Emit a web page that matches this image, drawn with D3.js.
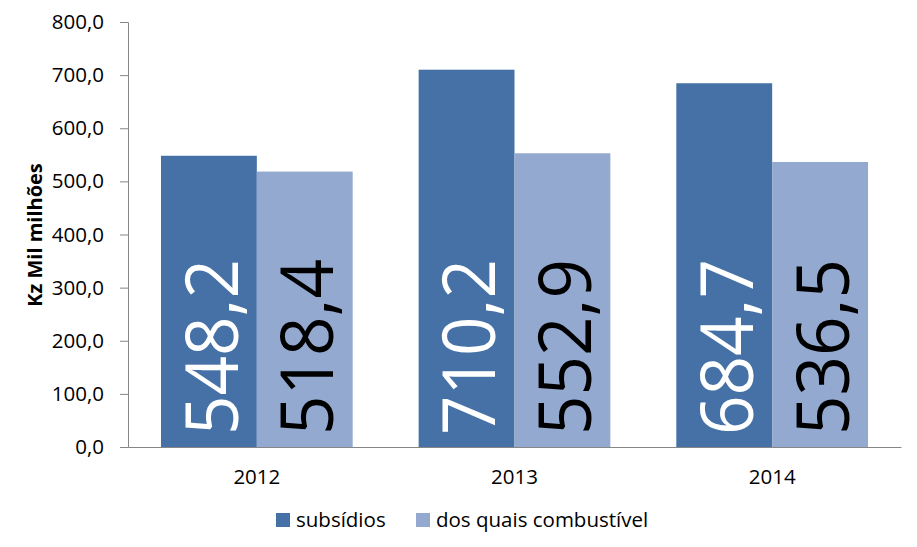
<!DOCTYPE html>
<html><head><meta charset="utf-8">
<script src="https://cdn.jsdelivr.net/npm/d3@7"></script>
<style>body{margin:0;background:#fff}svg{display:block}</style>
</head><body>
<script>
const categories = ["2012", "2013", "2014"];
const seriesNames = ["subsídios", "dos quais combustível"];
const subsidios = [548.2, 710.2, 684.7];
const combustivel = [518.4, 552.9, 536.5];
const yTicks = [0, 100, 200, 300, 400, 500, 600, 700, 800];
const colors = ["#4571A6", "#93A9D0"];
const labelColors = ["#ffffff", "#000000"];

(function () {
const W = 917, H = 547;
const pLeft = 128, pRight = 901, pTop = 22, pBottom = 447;
const font = "'Open Sans', sans-serif";

const svg = d3.select("body").append("svg").attr("width", W).attr("height", H);

const x = d3.scaleBand().domain(categories).range([pLeft, pRight]).paddingInner(0.256).paddingOuter(0.128);
const xs = d3.scaleBand().domain([0, 1]).range([0, x.bandwidth()]);
const y = d3.scaleLinear().domain([0, 800]).range([pBottom, pTop]);

const fmt = v => d3.format(".1f")(v).replace(".", ",");

// y axis
const yAxis = svg.append("g").attr("transform", `translate(${pLeft},0)`)
  .call(d3.axisLeft(y).tickValues(yTicks).tickSize(8).tickPadding(16).tickFormat(fmt));
yAxis.select(".domain").attr("stroke", "#868686");
yAxis.selectAll(".tick line").attr("stroke", "#868686");
yAxis.selectAll(".tick text").attr("font-family", font).attr("font-size", 20.5).attr("fill", "#000");

const data = categories.map((c, i) => ({c, vals: [subsidios[i], combustivel[i]]}));

const g = svg.append("g");
data.forEach(d => {
  d.vals.forEach((v, s) => {
    const bx = x(d.c) + xs(s);
    g.append("rect").attr("x", bx).attr("y", y(v)).attr("width", xs.bandwidth()).attr("height", y(0) - y(v)).attr("fill", colors[s]);
    const cx = bx + xs.bandwidth() / 2 + 2;
    g.append("text")
      .attr("transform", `translate(${cx},${pBottom - 12}) rotate(-90)`)
      .attr("dy", "0.36em")
      .attr("font-family", font)
      .attr("font-weight", 400)
      .attr("font-size", 74)
      .attr("textLength", 176)
      .attr("lengthAdjust", "spacingAndGlyphs")
      .attr("fill", labelColors[s])
      .text(fmt(v));
  });
});

// x axis
const xAxis = svg.append("g").attr("transform", `translate(0,${pBottom})`)
  .call(d3.axisBottom(x).tickSize(0).tickPadding(22).tickSizeOuter(0));
xAxis.select(".domain").attr("stroke", "#868686");
xAxis.selectAll(".tick text").attr("font-family", font).attr("font-size", 20.5).attr("fill", "#000");

// y title
svg.append("text").attr("transform", "translate(42,235) rotate(-90)")
  .attr("text-anchor", "middle").attr("font-family", font).attr("font-weight", "bold").attr("font-size", 20)
  .text("Kz Mil milhões");

// legend
const legX = [276, 416];
seriesNames.forEach((n, i) => {
  svg.append("rect").attr("x", legX[i]).attr("y", 513).attr("width", 14).attr("height", 14).attr("fill", colors[i]);
  svg.append("text").attr("x", legX[i] + 20).attr("y", 527).attr("font-family", font).attr("font-size", 20.5).attr("fill", "#000").text(n);
});
})();
</script>
</body></html>
